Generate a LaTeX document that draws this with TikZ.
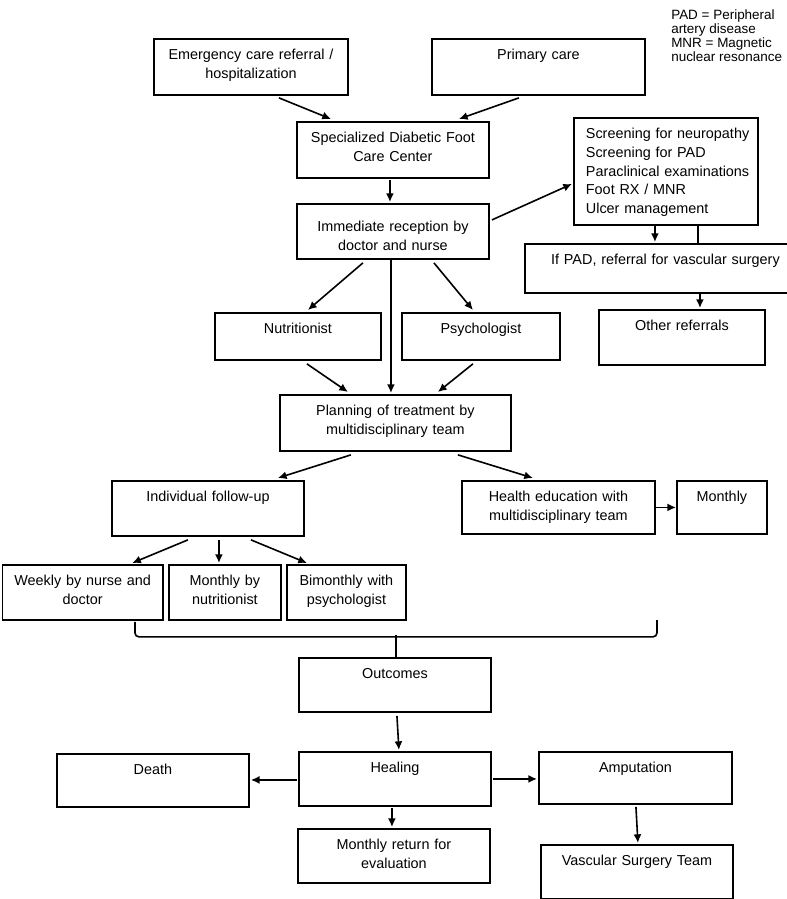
\documentclass[tikz,border=0pt]{standalone}
\usepackage{fontspec}
\setmainfont{Liberation Sans}
\usetikzlibrary{arrows.meta}
\begin{document}
\begin{tikzpicture}[x=0.75pt, y=-0.75pt,
	font=\fontsize{10.8}{13.9}\selectfont,
	box/.style 2 args={draw, line width=1.4pt, anchor=north west, inner sep=0pt,
		align=center, text width=#1, text height=15.75pt, text depth=#2},
	arr/.style={line width=1.2pt, -{Latex[length=6.5pt,width=6pt]}},
	link/.style={line width=1.2pt}]
\useasboundingbox (0,0) rectangle (787,899);
\clip (0,0) rectangle (787,899);
% legend
\node[anchor=north west, inner sep=0pt, align=left, font=\fontsize{10.1}{10.5}\selectfont] (legend) at (671,9)
	{PAD = Peripheral\\artery disease\\MNR = Magnetic\\nuclear resonance};
% entry and reception
\node[box={145.5pt}{26.25pt}] (emer) at (153,38) {Emergency care referral /\\hospitalization};
\node[box={159.75pt}{26.25pt}] (prim) at (431,38) {Primary care};
\node[box={144pt}{26.25pt}] (spec) at (296,121) {Specialized Diabetic Foot\\Care Center};
\node[box={144pt}{20.25pt}, text height=21pt] (imm) at (296,203) {Immediate reception by\\doctor and nurse};
\node[box={138pt}{64.5pt}, align=left] (screen) at (573,117)
	{\leftskip=9pt\relax Screening for neuropathy\\Screening for PAD\\Paraclinical examinations\\Foot RX / MNR\\Ulcer management\par};
\node[box={210.75pt}{21pt}] (ifpad) at (524,243) {If PAD, referral for vascular surgery};
\node[box={124.5pt}{25.5pt}] (other) at (598,309) {Other referrals};
\node[box={124.5pt}{19.5pt}] (nutr) at (214,312) {Nutritionist};
\node[box={118.5pt}{19.5pt}] (psych) at (401,312) {Psychologist};
\node[box={173.25pt}{26.25pt}] (plan) at (279,394) {Planning of treatment by\\multidisciplinary team};
% follow-up
\node[box={144pt}{25.5pt}] (indiv) at (111,480) {Individual follow-up};
\node[box={144.75pt}{24pt}] (health) at (461,480) {Health education with\\multidisciplinary team};
\node[box={67.5pt}{24pt}] (monthly) at (676,480) {Monthly};
\node[box={120.4pt}{25.5pt}] (weekly) at (1.5,564) {Weekly by nurse and\\doctor};
\node[box={84pt}{25.5pt}] (monnut) at (168,564) {Monthly by\\nutritionist};
\node[box={89.25pt}{25.5pt}] (bimon) at (286,564) {Bimonthly with\\psychologist};
% outcomes
\node[box={144pt}{24.75pt}] (outc) at (298,657) {Outcomes};
\node[box={144pt}{24pt}] (death) at (56,753) {Death};
\node[box={144pt}{24.75pt}] (heal) at (298,751) {Healing};
\node[box={144.75pt}{23.25pt}] (amp) at (538,751) {Amputation};
\node[box={144pt}{24.75pt}] (mret) at (297,828) {Monthly return for\\evaluation};
\node[box={144pt}{24.75pt}] (vasc) at (540,844) {Vascular Surgery Team};
% connectors
\draw[arr] ([shift={(28,2)}]emer.south) -- ([shift={(-62,-2)}]spec.north);
\draw[arr] ([shift={(-19.5,2)}]prim.south) -- ([shift={(66,-2)}]spec.north);
\draw[arr] ([shift={(-3,1)}]spec.south) -- ([shift={(-3,-1)}]imm.north);
\draw[arr] ([shift={(2,-11.5)}]imm.east) -- ([shift={(-1,12.5)}]screen.west);
\draw[arr] ([shift={(-11,0)}]screen.south) -- ([shift={(-10.5,-1)}]ifpad.north);
\draw[link] ([shift={(32,0)}]screen.south) -- ([shift={(32.5,0)}]ifpad.north);
\draw[arr] ([shift={(34.5,0)}]ifpad.south) -- ([shift={(18,-1)}]other.north);
\draw[arr] ([shift={(-30,3)}]imm.south) -- ([shift={(10,-2)}]nutr.north);
\draw[arr] ([shift={(-2,0)}]imm.south) -- ([shift={(-4.5,-1)}]plan.north);
\draw[arr] ([shift={(41,3)}]imm.south) -- ([shift={(-8,-2)}]psych.north);
\draw[arr] ([shift={(9,3)}]nutr.south) -- ([shift={(-47.5,-2)}]plan.north);
\draw[arr] ([shift={(-8,3)}]psych.south) -- ([shift={(42.5,-2)}]plan.north);
\draw[arr] ([shift={(-44.5,3)}]plan.south) -- ([shift={(70,-2)}]indiv.north);
\draw[arr] ([shift={(62.5,3)}]plan.south) -- ([shift={(-25.5,-2)}]health.north);
\draw[arr] (health.east) -- (monthly.west);
\draw[arr] ([shift={(-20,3)}]indiv.south) -- ([shift={(49.5,-1)}]weekly.north);
\draw[arr] ([shift={(11,3)}]indiv.south) -- ([shift={(-6,-1)}]monnut.north);
\draw[arr] ([shift={(43,3)}]indiv.south) -- ([shift={(-39.5,-1)}]bimon.north);
% bracket
\coordinate (brR) at (657,620);
\coordinate (brM) at (396,635);
\draw[link, rounded corners=3pt] ([shift={(52.25,1)}]weekly.south) -- ++(0,15) -| (brR);
\draw[link] (brM) -- (brM |- outc.north);
\draw[arr] ([shift={(2,3)}]outc.south) -- ([shift={(4,-1)}]heal.north);
\draw[arr] ([shift={(-1,1)}]heal.west) -- ([shift={(1,-0.5)}]death.east);
\draw[arr] ([shift={(1,0)}]heal.east) -- ([shift={(-1,1)}]amp.west);
\draw[arr] ([shift={(-3,1)}]heal.south) -- ([shift={(-2,-1)}]mret.north);
\draw[arr] ([shift={(0.5,2)}]amp.south) -- ([shift={(1,-1)}]vasc.north);
\end{tikzpicture}
\end{document}
